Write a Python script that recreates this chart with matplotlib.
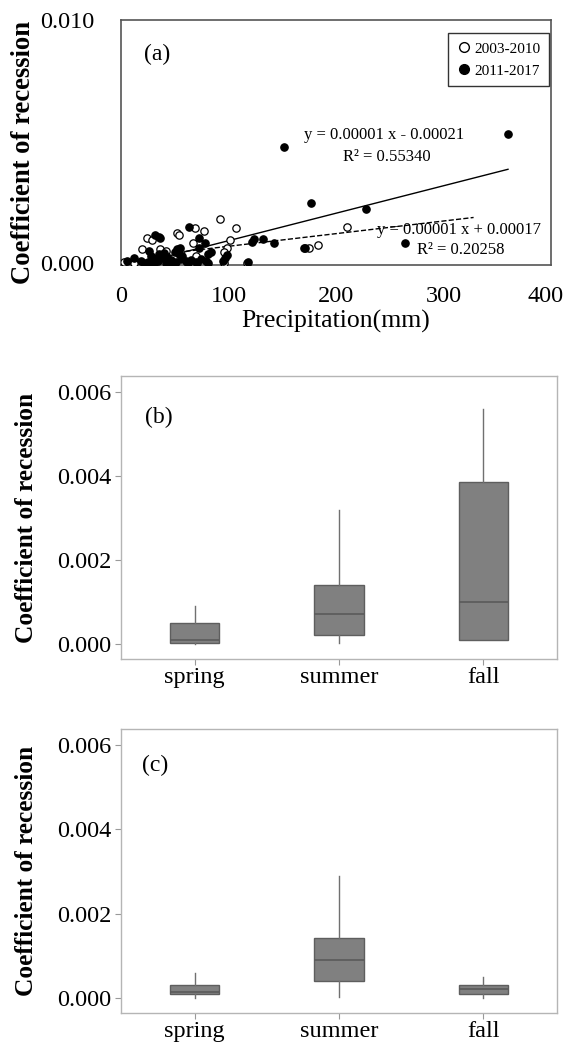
import matplotlib
matplotlib.use("Agg")
import matplotlib.pyplot as plt
from matplotlib.lines import Line2D
from matplotlib.transforms import ScaledTranslation

plt.rcParams['font.family'] = ['Liberation Serif', 'DejaVu Serif']

# ---------------- Panel (a) data ----------------
open_x = [92, 107, 69, 77, 52, 54, 24, 29, 67, 101, 99, 95.5, 19.5, 36, 42, 55,
          3, 12, 48, 61, 96, 117, 175, 183, 210, 30, 70]
open_y = [0.00182, 0.00146, 0.00146, 0.00132, 0.00124, 0.00114, 0.00103, 0.00094,
          0.00083, 0.00094, 0.00064, 0.00046, 0.00056, 0.00056, 0.00049, 0.00046,
          0.00005, 0.0, 0.0, 0.00005, 0.0, 0.0, 0.00064, 0.00073, 0.00147, 0.0002, 0.0003]

filled_x = [152, 360, 177, 228, 264, 63, 32, 35, 36.6, 73, 78, 73, 84, 81, 55, 52, 50.5,
            122, 124, 132, 142, 170, 171.5, 99, 97, 94.6, 118, 26, 35, 43, 12.4, 6, 18.6,
            25, 29.5, 34, 39, 46.5, 51, 56, 60.5, 65, 70, 74.4, 79, 21.7, 31, 42, 48, 62,
            71, 80.6, 28, 40, 54, 57]
filled_y = [0.00476, 0.00533, 0.00248, 0.00224, 0.00083, 0.00148, 0.00117, 0.00107,
            0.00103, 0.00105, 0.00083, 0.00064, 0.00046, 0.00037, 0.00064, 0.00056,
            0.00046, 0.00087, 0.00097, 0.00097, 0.00083, 0.00064, 0.00064, 0.00033,
            0.00019, 0.0001, 0.00005, 0.00049, 0.00039, 0.00026, 0.00019, 0.0001, 0.0001,
            0.00005, 0.00015, 0.0001, 0.00019, 0.00012, 0.00005, 0.00015, 0.0001, 0.00012,
            0.00005, 0.00015, 0.0001, 0.0, 0.0, 0.0, 0.0, 0.0, 0.0, 0.00001, 0.00029,
            0.00042, 0.00039, 0.00029]

# trend lines (slope, intercept, x range)
fit_solid = dict(slope=1.13e-5, intercept=-0.00021, x0=40, x1=360)
fit_dashed = dict(slope=5.2e-6, intercept=0.00017, x0=60, x1=328)

eq_solid = ["y = 0.00001 x - 0.00021", "R² = 0.55340"]
eq_dashed = ["y = 0.00001 x + 0.00017", "R² = 0.20258"]

legend_labels = ["2003-2010", "2011-2017"]
xticks_a = [0, 100, 200, 300, 400]
yticks_a = [0.000, 0.010]

# ---------------- Panels (b), (c) data ----------------
seasons = ["spring", "summer", "fall"]
# whislo, q1, med, q3, whishi
b_whislo = [0.0, 0.00002, 0.0001]
b_q1 = [0.00003, 0.0002, 0.0001]
b_med = [0.0001, 0.0007, 0.001]
b_q3 = [0.0005, 0.0014, 0.00385]
b_whishi = [0.0009, 0.0032, 0.0056]

c_whislo = [0.0, 0.00002, 0.0]
c_q1 = [0.0001, 0.0004, 0.0001]
c_med = [0.00015, 0.0009, 0.0002]
c_q3 = [0.0003, 0.00143, 0.0003]
c_whishi = [0.0006, 0.0029, 0.0005]

yticks_bc = [0.000, 0.002, 0.004, 0.006]

# ---------------- Figure ----------------
W, H = 566, 1043
fig = plt.figure(figsize=(W / 100, H / 100), dpi=100)

def rect(l, t, r, b):
    return [l / W, (H - b) / H, (r - l) / W, (b - t) / H]

# Panel (a)
axa = fig.add_axes(rect(121, 20, 551, 265))
axa.scatter(open_x, open_y, s=28, facecolors='white', edgecolors='black', linewidths=0.9, zorder=3)
axa.scatter(filled_x, filled_y, s=28, facecolors='black', edgecolors='black', linewidths=0.9, zorder=4)
for fit, ls in [(fit_solid, '-'), (fit_dashed, '--')]:
    xs = [fit['x0'], fit['x1']]
    ys = [fit['slope'] * x + fit['intercept'] for x in xs]
    axa.plot(xs, ys, color='black', lw=1.0, ls=ls, zorder=2)
axa.text(245, 0.00525, eq_solid[0], ha='center', va='center', fontsize=12, zorder=5)
axa.text(247, 0.00438, eq_solid[1], ha='center', va='center', fontsize=12, zorder=5)
axa.text(314, 0.00136, eq_dashed[0], ha='center', va='center', fontsize=12, zorder=5)
axa.text(316, 0.00054, eq_dashed[1], ha='center', va='center', fontsize=12, zorder=5)
axa.text(0.084, 0.86, "(a)", transform=axa.transAxes, fontsize=17, ha='center', va='center')
axa.set_xlim(0, 400)
axa.set_ylim(-0.00008, 0.0100)
axa.set_xticks(xticks_a)
axa.set_yticks(yticks_a)
axa.set_yticklabels([f"{v:.3f}" for v in yticks_a])
axa.tick_params(length=0, labelsize=17.5)
axa.tick_params(axis='y', pad=19)
axa.tick_params(axis='x', pad=15)
# keep the last x tick label inside the figure edge
last_lbl = axa.get_xticklabels()[-1]
last_lbl.set_transform(last_lbl.get_transform() + ScaledTranslation(-5 / 100, 0, fig.dpi_scale_trans))
for sp in axa.spines.values():
    sp.set_color('#555555')
    sp.set_linewidth(1.2)
axa.set_xlabel("Precipitation(mm)", fontsize=18.5, labelpad=2)
axa.set_ylabel("Coefficient of recession", fontsize=19.2, fontweight='bold')
axa.yaxis.set_label_coords(-0.198, 0.461)
handles = [Line2D([], [], marker='o', ls='none', markerfacecolor='white', markeredgecolor='black', markersize=7),
           Line2D([], [], marker='o', ls='none', markerfacecolor='black', markeredgecolor='black', markersize=7)]
leg = axa.legend(handles, legend_labels, loc='upper right', bbox_to_anchor=(0.995, 0.945),
                 fontsize=11, frameon=True, fancybox=False, edgecolor='black',
                 handletextpad=0.2, borderpad=0.55, handlelength=1.0, borderaxespad=0.0,
                 labelspacing=0.55)
leg.get_frame().set_linewidth(1.0)

# Panels (b) and (c)
def box_panel(ax, whislo, q1, med, q3, whishi, letter, lx, ly):
    stats = []
    for i in range(len(seasons)):
        stats.append(dict(whislo=whislo[i], q1=q1[i], med=med[i], q3=q3[i],
                          whishi=whishi[i], fliers=[], label=seasons[i]))
    ax.bxp(stats, positions=[1, 2, 3], widths=0.34, showfliers=False, showcaps=False,
           patch_artist=True,
           boxprops=dict(facecolor='#808080', edgecolor='#5e5e5e', linewidth=1.0),
           medianprops=dict(color='#5a5a5a', linewidth=1.2),
           whiskerprops=dict(color='#707070', linewidth=1.0))
    ax.set_xlim(0.49, 3.51)
    ax.set_ylim(-0.00036, 0.00638)
    ax.set_yticks(yticks_bc)
    ax.set_yticklabels([f"{v:.3f}" for v in yticks_bc])
    ax.tick_params(axis='both', colors='#999999', length=4, width=0.8, labelsize=17.5, labelcolor='black')
    ax.tick_params(axis='y', pad=3)
    ax.tick_params(axis='x', pad=2)
    for sp in ax.spines.values():
        sp.set_color('#b5b5b5')
        sp.set_linewidth(1.0)
    ax.text(lx, ly, letter, transform=ax.transAxes, fontsize=17, ha='center', va='center')
    ax.set_ylabel("Coefficient of recession", fontsize=18.3, fontweight='bold')
    ax.yaxis.set_label_coords(-0.19, 0.5)

axb = fig.add_axes(rect(121, 376, 557, 659))
box_panel(axb, b_whislo, b_q1, b_med, b_q3, b_whishi, "(b)", 0.087, 0.855)
axc = fig.add_axes(rect(121, 729, 557, 1013))
box_panel(axc, c_whislo, c_q1, c_med, c_q3, c_whishi, "(c)", 0.078, 0.873)

fig.savefig("out.png", dpi=100)
